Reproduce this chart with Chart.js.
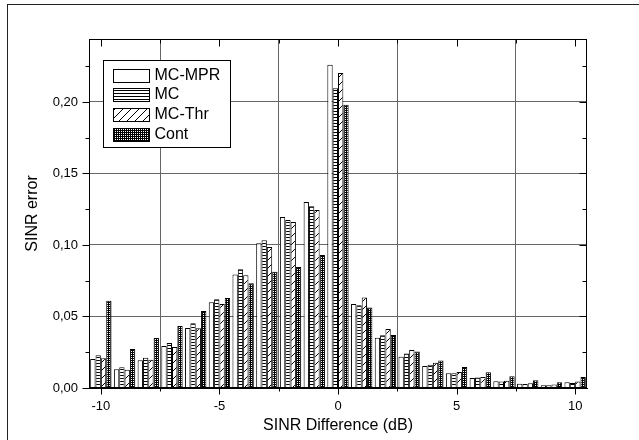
<!DOCTYPE html>
<html>
<head>
<meta charset="utf-8">
<script src="https://cdn.jsdelivr.net/npm/chart.js@4.4.0/dist/chart.umd.min.js"></script>
<style>
  html, body { margin: 0; padding: 0; background: #fff; }
  #wrap { width: 639px; height: 440px; position: relative; }
</style>
</head>
<body>
<div id="wrap"><canvas id="chart"></canvas></div>
<script>
// Data
const sinrDiff = [-10, -9, -8, -7, -6, -5, -4, -3, -2, -1, 0, 1, 2, 3, 4, 5, 6, 7, 8, 9, 10];
const mcMpr = [0.0203, 0.0131, 0.0194, 0.0294, 0.0420, 0.0599, 0.0793, 0.1012, 0.1196, 0.1300, 0.2260,
               0.0587, 0.0352, 0.0219, 0.0154, 0.0103, 0.0070, 0.0047, 0.0030, 0.0019, 0.0040];
const mc = [0.0229, 0.0145, 0.0212, 0.0315, 0.0452, 0.0620, 0.0830, 0.1033, 0.1175, 0.1270, 0.2096,
            0.0578, 0.0368, 0.0242, 0.0163, 0.0103, 0.0073, 0.0045, 0.0028, 0.0019, 0.0035];
const mcThr = [0.0208, 0.0128, 0.0198, 0.0287, 0.0417, 0.0587, 0.0788, 0.0986, 0.1160, 0.1245, 0.2203,
               0.0632, 0.0413, 0.0266, 0.0177, 0.0112, 0.0077, 0.0051, 0.0033, 0.0024, 0.0045];
const cont = [0.0610, 0.0273, 0.0350, 0.0434, 0.0538, 0.0630, 0.0732, 0.0813, 0.0846, 0.0930, 0.1980,
              0.0562, 0.0371, 0.0256, 0.0193, 0.0147, 0.0110, 0.0082, 0.0054, 0.0040, 0.0077];
const seriesLabels = ['MC-MPR', 'MC', 'MC-Thr', 'Cont'];
const xTicks = [-10, -5, 0, 5, 10];
const yTicks = [0, 0.05, 0.10, 0.15, 0.20];

const FONT = "'Liberation Sans', Arial, sans-serif";

// hatch fills like the original plot
function makePattern(kind) {
    const c = document.createElement('canvas');
    const g = c.getContext('2d');
    if (kind === 'plain') {
        c.width = 4; c.height = 4;
        g.fillStyle = '#fff'; g.fillRect(0, 0, 4, 4);
    } else if (kind === 'horiz') {
        c.width = 4; c.height = 3;
        g.fillStyle = '#fff'; g.fillRect(0, 0, 4, 3);
        g.fillStyle = '#000'; g.fillRect(0, 0, 4, 1);
    } else if (kind === 'diag') {
        c.width = 8; c.height = 8;
        g.fillStyle = '#fff'; g.fillRect(0, 0, 8, 8);
        g.strokeStyle = '#000'; g.lineWidth = 1;
        g.beginPath();
        g.moveTo(0, 8); g.lineTo(8, 0);
        g.moveTo(-1, 1); g.lineTo(1, -1);
        g.moveTo(7, 9); g.lineTo(9, 7);
        g.stroke();
    } else {
        c.width = 4; c.height = 4;
        g.fillStyle = '#000'; g.fillRect(0, 0, 4, 4);
        g.fillStyle = '#fff';
        [[1, 1], [3, 3], [1, 3], [3, 1]].forEach(p => g.fillRect(p[0], p[1], 1, 1));
    }
    return g.createPattern(c, 'repeat');
}

const fills = [makePattern('plain'), makePattern('horiz'), makePattern('diag'), makePattern('cross')];
const seriesValues = [mcMpr, mc, mcThr, cont];

const datasets = seriesLabels.map((label, i) => ({
    label: label,
    data: sinrDiff.map((x, j) => ({ x: x, y: seriesValues[i][j] })),
    backgroundColor: fills[i],
    borderColor: '#000',
    borderWidth: 1,
    categoryPercentage: 0.9,
    barPercentage: 1.0
}));

// frame, inward/outward tick marks, outer box and legend
const decorPlugin = {
    id: 'decor',
    afterDraw(chart) {
        const { ctx, chartArea: a, scales: { x, y } } = chart;
        const L = Math.round(a.left) + 0.5, R = Math.round(a.right) - 0.5;
        const T = Math.round(a.top) + 0.5, B = Math.round(a.bottom) - 0.5;
        ctx.save();
        ctx.strokeStyle = '#000';
        ctx.lineWidth = 1;
        ctx.strokeRect(L, T, R - L, B - T);

        ctx.beginPath();
        for (let v = -10; v <= 10; v += 2.5) {
            const px = Math.round(x.getPixelForValue(v)) + 0.5;
            const len = v % 5 === 0 ? 7 : 4;
            ctx.moveTo(px, B); ctx.lineTo(px, B + len);
            ctx.moveTo(px, T); ctx.lineTo(px, T + len);
        }
        for (let k = 0; k <= 9; k++) {
            const v = k * 0.025;
            const py = Math.round(y.getPixelForValue(v)) + 0.5;
            const len = k % 2 === 0 ? 7 : 4;
            ctx.moveTo(L, py); ctx.lineTo(L - len, py);
            ctx.moveTo(R, py); ctx.lineTo(R - len, py);
        }
        ctx.stroke();

        // outer picture frame (cut at right/bottom)
        ctx.strokeStyle = '#222';
        ctx.strokeRect(7.5, 4.5, 700, 700);

        // legend box
        const bx = Math.round(a.left) + 14.5, by = Math.round(a.top) + 21.5;
        const bw = 127, bh = 87;
        ctx.fillStyle = '#fff';
        ctx.fillRect(bx, by, bw, bh);
        ctx.strokeStyle = '#000';
        ctx.strokeRect(bx, by, bw, bh);
        ctx.font = '16px ' + FONT;
        ctx.textBaseline = 'middle';
        chart.data.datasets.forEach((ds, i) => {
            const sy = Math.round(by + 8 + i * 19.8);
            ctx.fillStyle = ds.backgroundColor;
            ctx.fillRect(bx + 10, sy, 36, 13);
            ctx.strokeRect(bx + 10, sy + 0.5, 36, 13);
            ctx.fillStyle = '#000';
            ctx.fillText(ds.label, bx + 51, sy + 7);
        });
        ctx.restore();
    }
};

new Chart(document.getElementById('chart'), {
    type: 'bar',
    data: { datasets: datasets },
    options: {
        responsive: true,
        maintainAspectRatio: false,
        animation: false,
        layout: { padding: { left: 0, top: 39, right: 52, bottom: 0 } },
        plugins: {
            legend: { display: false },
            tooltip: { enabled: false }
        },
        scales: {
            x: {
                type: 'linear',
                min: -10.5,
                max: 10.5,
                offset: false,
                afterBuildTicks: s => { s.ticks = xTicks.map(v => ({ value: v })); },
                afterFit: s => { s.height = 52; },
                ticks: {
                    color: '#000',
                    font: { family: FONT, size: 13 },
                    padding: 4,
                    maxRotation: 0,
                    callback: v => String(v)
                },
                grid: { color: '#666', lineWidth: 1, tickLength: 7, tickColor: 'rgba(0,0,0,0)' },
                border: { display: true, color: '#000' },
                title: {
                    display: true,
                    text: 'SINR Difference (dB)',
                    color: '#000',
                    font: { family: FONT, size: 16 },
                    padding: { top: 0, bottom: 5 }
                }
            },
            y: {
                min: 0,
                max: 0.244,
                afterBuildTicks: s => { s.ticks = yTicks.map(v => ({ value: v })); },
                afterFit: s => { s.width = 89; },
                ticks: {
                    color: '#000',
                    font: { family: FONT, size: 13 },
                    padding: 4,
                    callback: v => v.toFixed(2).replace('.', ',')
                },
                grid: { color: '#666', lineWidth: 1, tickLength: 7, tickColor: 'rgba(0,0,0,0)' },
                border: { display: true, color: '#000' },
                title: {
                    display: true,
                    text: 'SINR error',
                    color: '#000',
                    font: { family: FONT, size: 16 },
                    padding: { top: 23, bottom: 0 }
                }
            }
        }
    },
    plugins: [decorPlugin]
});
</script>
</body>
</html>
